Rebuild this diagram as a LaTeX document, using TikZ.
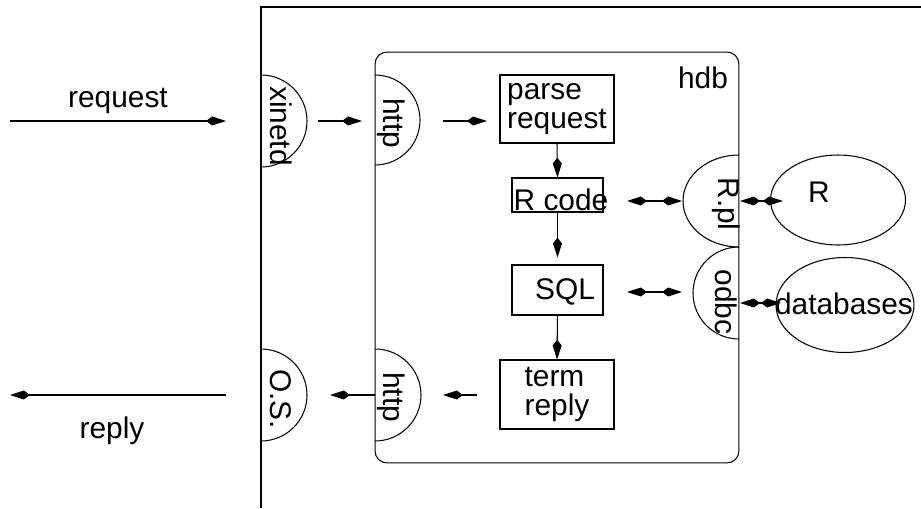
\documentclass[tikz,border=0pt]{standalone}
\usepackage{fontspec}
\setmainfont{Liberation Sans}
\usetikzlibrary{arrows.meta,shapes.geometric,positioning}
\tikzset{
  box/.style = {draw, inner sep=0pt, align=left},
  txt/.style = {inner sep=0pt, align=left},
  vtxt/.style = {inner sep=0pt, rotate=-90},
  blob/.style = {draw, ellipse, inner sep=0pt},
  tip/.tip = {Kite[length=11.3pt, width=5.1pt, inset=3.4pt]},
  flow/.style = {-tip},
  both/.style = {tip-tip}
}

\begin{document}
\begin{tikzpicture}[x=0.02cm, y=-0.02cm, line width=0.6pt,
    font=\fontsize{17}{17}\selectfont]
  \useasboundingbox (0,0) rectangle (921,508);

  % outer machine and the hdb server
  \draw (921,7) -- (261,7) -- (261,508);
  \node [draw, rounded corners=0.24cm, minimum width=7.28cm,
         minimum height=8.22cm] (hdbbox) at (557,257.5) {};
  \node [txt] (hdb) at (703,78) {hdb};

  % half discs on the borders
  \draw (261,75) arc[start angle=-90, end angle=90, x radius=46, y radius=46];
  \draw (375,75) arc[start angle=-90, end angle=90, x radius=45, y radius=45];
  \draw (261,349) arc[start angle=-90, end angle=90, x radius=46, y radius=46];
  \draw (375,349) arc[start angle=-90, end angle=90, x radius=46, y radius=46];
  \draw (739,155) arc[start angle=-90, end angle=-270, x radius=56, y radius=46];
  \draw (739,247) arc[start angle=-90, end angle=-270, x radius=46, y radius=46];
  \node [vtxt] (xinetd)  at (281,126) {xinetd};
  \node [vtxt] (httpin)  at (391,123) {http};
  \node [vtxt] (os)      at (281,399) {O.S.};
  \node [vtxt] (httpout) at (391,397) {http};
  \node [vtxt] (rpl)     at (726,204) {R.pl};
  \node [vtxt] (odbc)    at (726,302) {odbc};

  % steps inside hdb
  \node [box, minimum width=2.28cm, minimum height=1.36cm] (parse) at (557,109) {parse\\request};
  \node [box, minimum width=1.82cm, minimum height=0.68cm] (rcode) at (557.5,195) {};
  \node [txt] (rcodetxt) at (561,200) {R code};
  \node [box, minimum width=1.82cm, minimum height=1cm] (sql) at (557.5,290) {};
  \node [txt] (sqltxt) at (565,292) {SQL};
  \node [box, minimum width=2.28cm, minimum height=1.38cm] (term) at (557,394.5) {term\\reply};

  % outside
  \node [blob, minimum width=2.7cm, minimum height=1.8cm] (r) at (838,200) {};
  \node [txt] (rtxt) at (819,192) {R};
  \node [blob, minimum width=2.76cm, minimum height=1.9cm] (db) at (845,305) {};
  \node [txt] (dbtxt) at (844,304) {databases};
  \node [txt] (request) at (118,101) {request};
  \node [txt] (reply) at (112,431) {reply};

  % arrow ends
  \coordinate (reqa) at (10,121);   \coordinate (reqb) at (226,121);
  \coordinate (xa) at (318,121);    \coordinate (xb) at (362,121);
  \coordinate (ha) at (443,121);    \coordinate (hb) at (487,121);
  \coordinate (ta) at (477,395);    \coordinate (tb) at (443,395);
  \coordinate (oa) at (375,395);    \coordinate (ob) at (330,395);
  \coordinate (repa) at (226,395);  \coordinate (repb) at (10,395);
  \coordinate (ca) at (627,201);    \coordinate (cb) at (682,201);
  \coordinate (pa) at (740,201);    \coordinate (pb) at (783,201);
  \coordinate (qa) at (627,292);    \coordinate (qb) at (682,292);
  \coordinate (da) at (740,303);    \coordinate (db2) at (781,303);

  \draw [flow] (reqa) -- (reqb);
  \draw [flow] (xa) -- (xb);
  \draw [flow] (ha) -- (hb);
  \draw [flow] (parse.south) -- (rcode.north);
  \draw [flow, shorten >=4pt] (rcode.south) -- (sql.north);
  \draw [flow] (sql.south) -- (term.north);
  \draw [flow] (ta) -- (tb);
  \draw [flow] (oa) -- (ob);
  \draw [flow] (repa) -- (repb);
  \draw [both] (ca) -- (cb);
  \draw [both] (pa) -- (pb);
  \draw [both] (qa) -- (qb);
  \draw [both] (da) -- (db2);
\end{tikzpicture}
\end{document}
